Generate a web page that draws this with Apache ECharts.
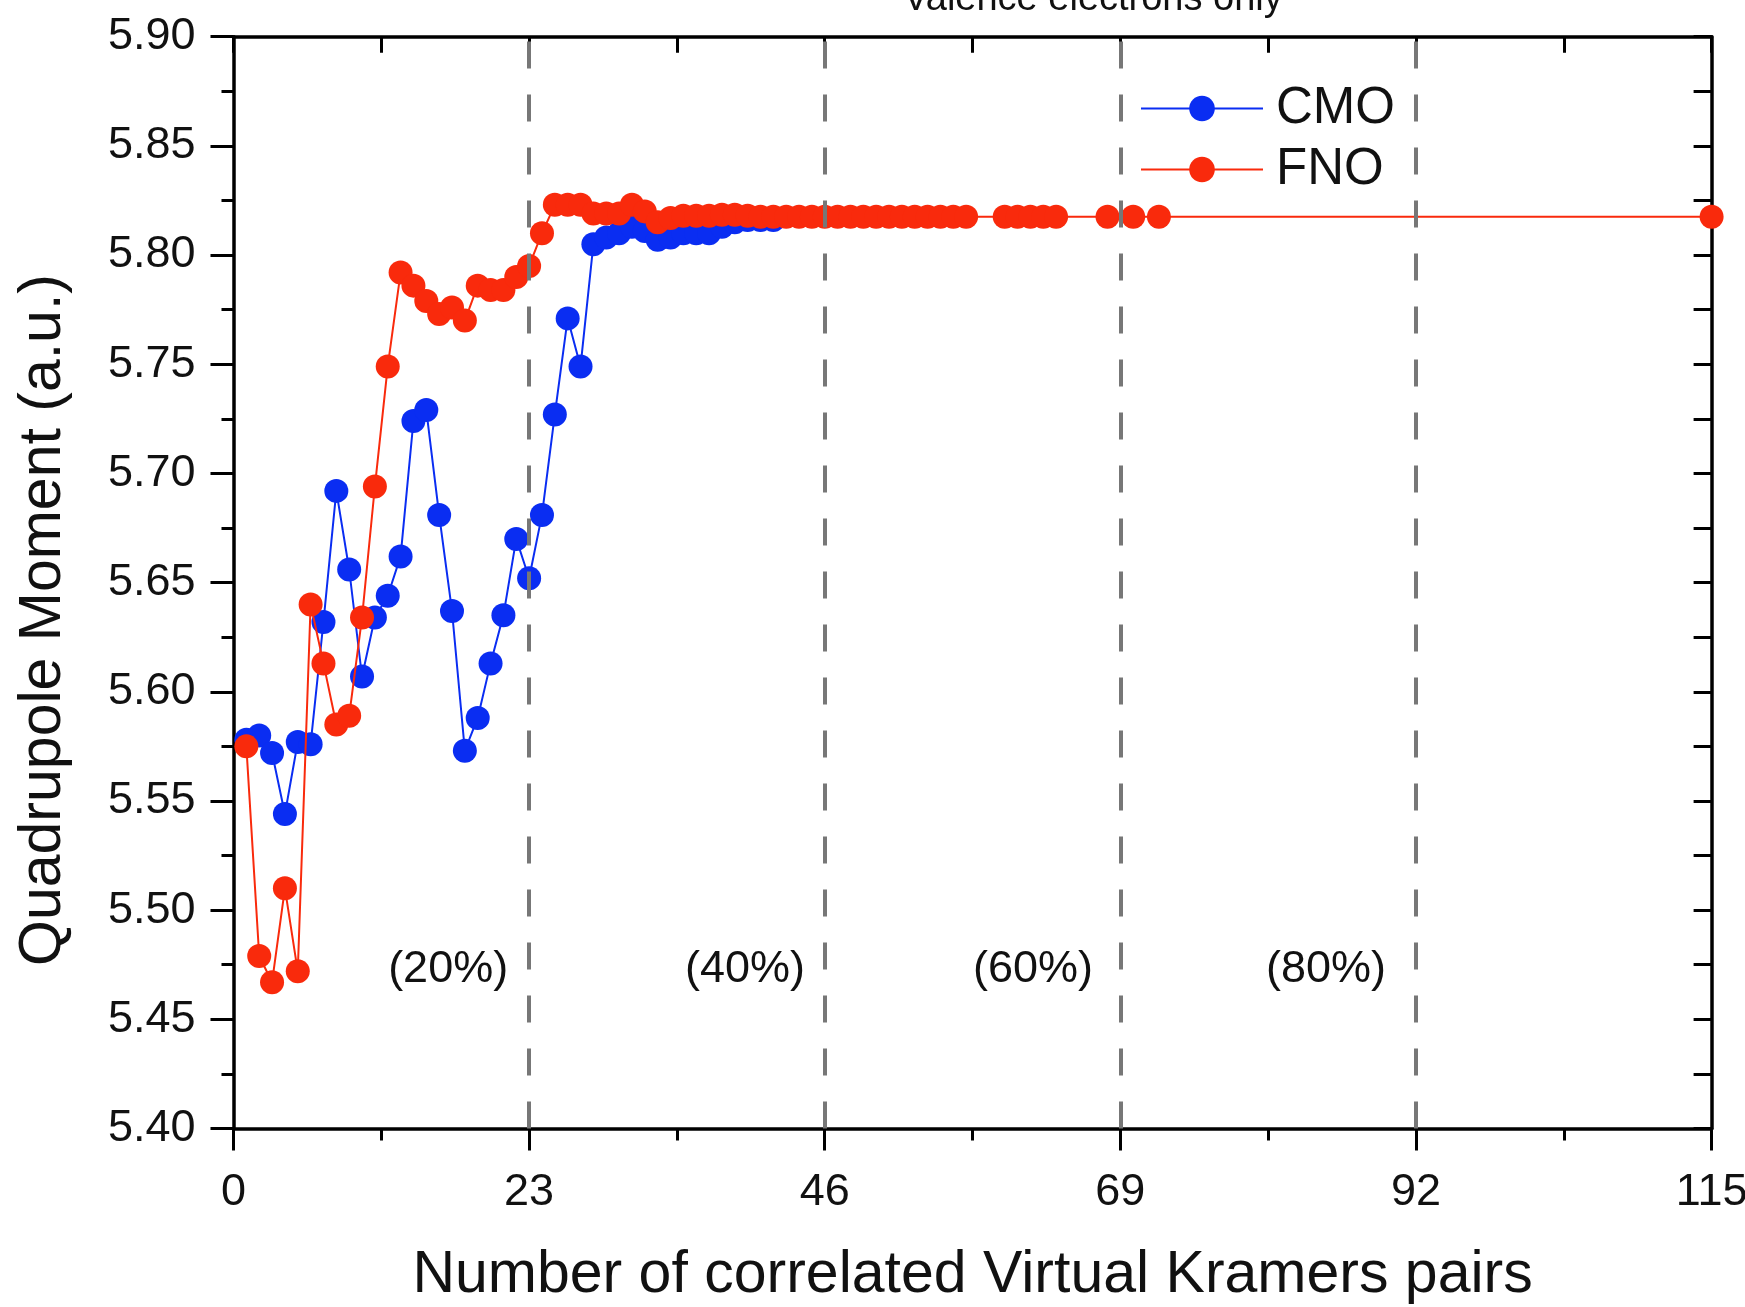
<!DOCTYPE html>
<html><head><meta charset="utf-8">
<script src="https://cdn.jsdelivr.net/npm/echarts@6/dist/echarts.min.js"></script>
<style>html,body{margin:0;padding:0;background:#fff}#c{width:1745px;height:1307px}</style>
</head><body><div id="c"></div>
<script>
// ---- data ----
const xTicks = [0, 23, 46, 69, 92, 115];
const dividerX = [23, 46, 69, 92];
const cmoX = [1,2,3,4,5,6,7,8,9,10,11,12,13,14,15,16,17,18,19,20,21,22,23,24,25,26,27,28,29,30,31,32,33,34,35,36,37,38,39,40,41,42];
const cmoY = [5.578,5.580,5.572,5.544,5.577,5.576,5.632,5.692,5.656,5.607,5.634,5.644,5.662,5.724,5.729,5.681,5.637,5.573,5.588,5.613,5.635,5.670,5.652,5.681,5.727,5.771,5.749,5.805,5.808,5.810,5.813,5.811,5.807,5.808,5.810,5.810,5.810,5.813,5.815,5.816,5.816,5.816];
const fnoX = [1,2,3,4,5,6,7,8,9,10,11,12,13,14,15,16,17,18,19,20,21,22,23,24,25,26,27,28,29,30,31,32,33,34,35,36,37,38,39,40,41,42,43,44,45,46,47,48,49,50,51,52,53,54,55,56,57,60,61,62,63,64,68,70,72,115];
const fnoY = [5.575,5.479,5.467,5.510,5.472,5.640,5.613,5.585,5.589,5.634,5.694,5.749,5.792,5.786,5.779,5.773,5.776,5.770,5.786,5.784,5.784,5.790,5.795,5.810,5.823,5.823,5.823,5.819,5.819,5.819,5.823,5.820,5.815,5.817,5.818,5.818,5.818,5.8185,5.8185,5.818,5.8175,5.8175,5.8175,5.8175,5.8175,5.8175,5.8175,5.8175,5.8175,5.8175,5.8175,5.8175,5.8175,5.8175,5.8175,5.8175,5.8175,5.8175,5.8175,5.8175,5.8175,5.8175,5.8175,5.8175,5.8175,5.8175];
const annX = [16.7, 39.8, 62.2, 85.0];
const annY = [5.473, 5.473, 5.473, 5.473];
const annText = ['(20%)', '(40%)', '(60%)', '(80%)'];

const FONT = "'Liberation Sans', Arial, sans-serif";
const BLUE = '#0a2df2';
const RED = '#f92a0c';

const chart = echarts.init(document.getElementById('c'), null, {renderer: 'canvas'});
const pair = (xs, ys) => xs.map((x, i) => [x, ys[i]]);

const axisCommon = {
  type: 'value', min: 0, max: 115, interval: 23,
  splitLine: {show: false},
  axisLine: {show: true, onZero: false, lineStyle: {color: '#000', width: 3.5}}
};
const yCommon = {
  type: 'value', min: 5.40, max: 5.90, interval: 0.05,
  splitLine: {show: false}, scale: true,
  axisLine: {show: true, onZero: false, lineStyle: {color: '#000', width: 3.5}}
};

chart.setOption({
  animation: false,
  backgroundColor: '#fff',
  grid: {left: 233.5, right: 33.4, top: 36.7, bottom: 178.5, containLabel: false, outerBoundsMode: 'none'},
  graphic: [{
    type: 'text', x: 1093, y: 19, z: 100,
    style: {text: 'Valence electrons only', font: '38px ' + FONT, fill: '#111', textAlign: 'center', textVerticalAlign: 'bottom'}
  }, {
    type: 'text', x: 44, y: 620, rotation: Math.PI / 2, z: 100,
    style: {text: 'Quadrupole Moment (a.u.)', font: '59px ' + FONT, fill: '#111', textAlign: 'center', textVerticalAlign: 'middle'}
  }],
  legend: {
    data: ['CMO', 'FNO'], orient: 'vertical', left: 1135, top: 78,
    itemWidth: 122, itemHeight: 32, itemGap: 10,
    textStyle: {fontSize: 51, fontFamily: FONT, color: '#111', padding: [0, 0, 0, 8]}
  },
  xAxis: [
    Object.assign({}, axisCommon, {
      position: 'bottom',
      name: 'Number of correlated Virtual Kramers pairs', nameLocation: 'middle', nameGap: 118,
      nameTextStyle: {fontSize: 59, fontFamily: FONT, color: '#111'},
      axisTick: {show: true, inside: false, length: 22, lineStyle: {color: '#000', width: 3}},
      minorTick: {show: true, splitNumber: 2, length: 12, lineStyle: {color: '#000', width: 3}},
      axisLabel: {show: true, margin: 42, fontSize: 45, fontFamily: FONT, color: '#111',
        customValues: xTicks, formatter: v => String(v)}
    }),
    Object.assign({}, axisCommon, {
      position: 'top',
      axisTick: {show: true, inside: true, length: 16, lineStyle: {color: '#000', width: 3}},
      minorTick: {show: true, splitNumber: 2, length: 16, lineStyle: {color: '#000', width: 3}},
      axisLabel: {show: false}
    })
  ],
  yAxis: [
    Object.assign({}, yCommon, {
      position: 'left',
      axisTick: {show: true, inside: false, length: 23, lineStyle: {color: '#000', width: 3}},
      minorTick: {show: true, splitNumber: 2, length: 12, lineStyle: {color: '#000', width: 3}},
      axisLabel: {show: true, margin: 38, fontSize: 45, fontFamily: FONT, color: '#111',
        formatter: v => v.toFixed(2)}
    }),
    Object.assign({}, yCommon, {
      position: 'right',
      axisTick: {show: true, inside: true, length: 18, lineStyle: {color: '#000', width: 3}},
      minorTick: {show: true, splitNumber: 2, length: 18, lineStyle: {color: '#000', width: 3}},
      axisLabel: {show: false}
    })
  ],
  series: [
    {
      name: 'CMO', type: 'line', xAxisIndex: 0, yAxisIndex: 0,
      data: pair(cmoX, cmoY), symbol: 'circle', symbolSize: 24, showSymbol: true,
      itemStyle: {color: BLUE}, lineStyle: {color: BLUE, width: 2}, z: 2
    },
    {
      name: 'FNO', type: 'line', xAxisIndex: 0, yAxisIndex: 0,
      data: pair(fnoX, fnoY), symbol: 'circle', symbolSize: 24, showSymbol: true,
      itemStyle: {color: RED}, lineStyle: {color: RED, width: 2}, z: 3
    },
    {
      name: 'dividers', type: 'line', xAxisIndex: 0, yAxisIndex: 0, data: [], z: 5,
      markLine: {
        silent: true, symbol: ['none', 'none'], label: {show: false},
        lineStyle: {color: '#777', type: [27, 26], width: 4},
        data: dividerX.map(x => ({xAxis: x}))
      }
    },
    {
      name: 'labels', type: 'scatter', xAxisIndex: 0, yAxisIndex: 0, z: 6,
      symbolSize: 1, itemStyle: {color: 'rgba(0,0,0,0)', opacity: 1},
      data: annX.map((x, i) => ({value: [x, annY[i]], name: annText[i]})),
      label: {show: true, position: 'inside', formatter: p => p.name, opacity: 1,
        fontSize: 45, fontFamily: FONT, color: '#111', textBorderWidth: 0}
    }
  ]
});
</script>
</body></html>
